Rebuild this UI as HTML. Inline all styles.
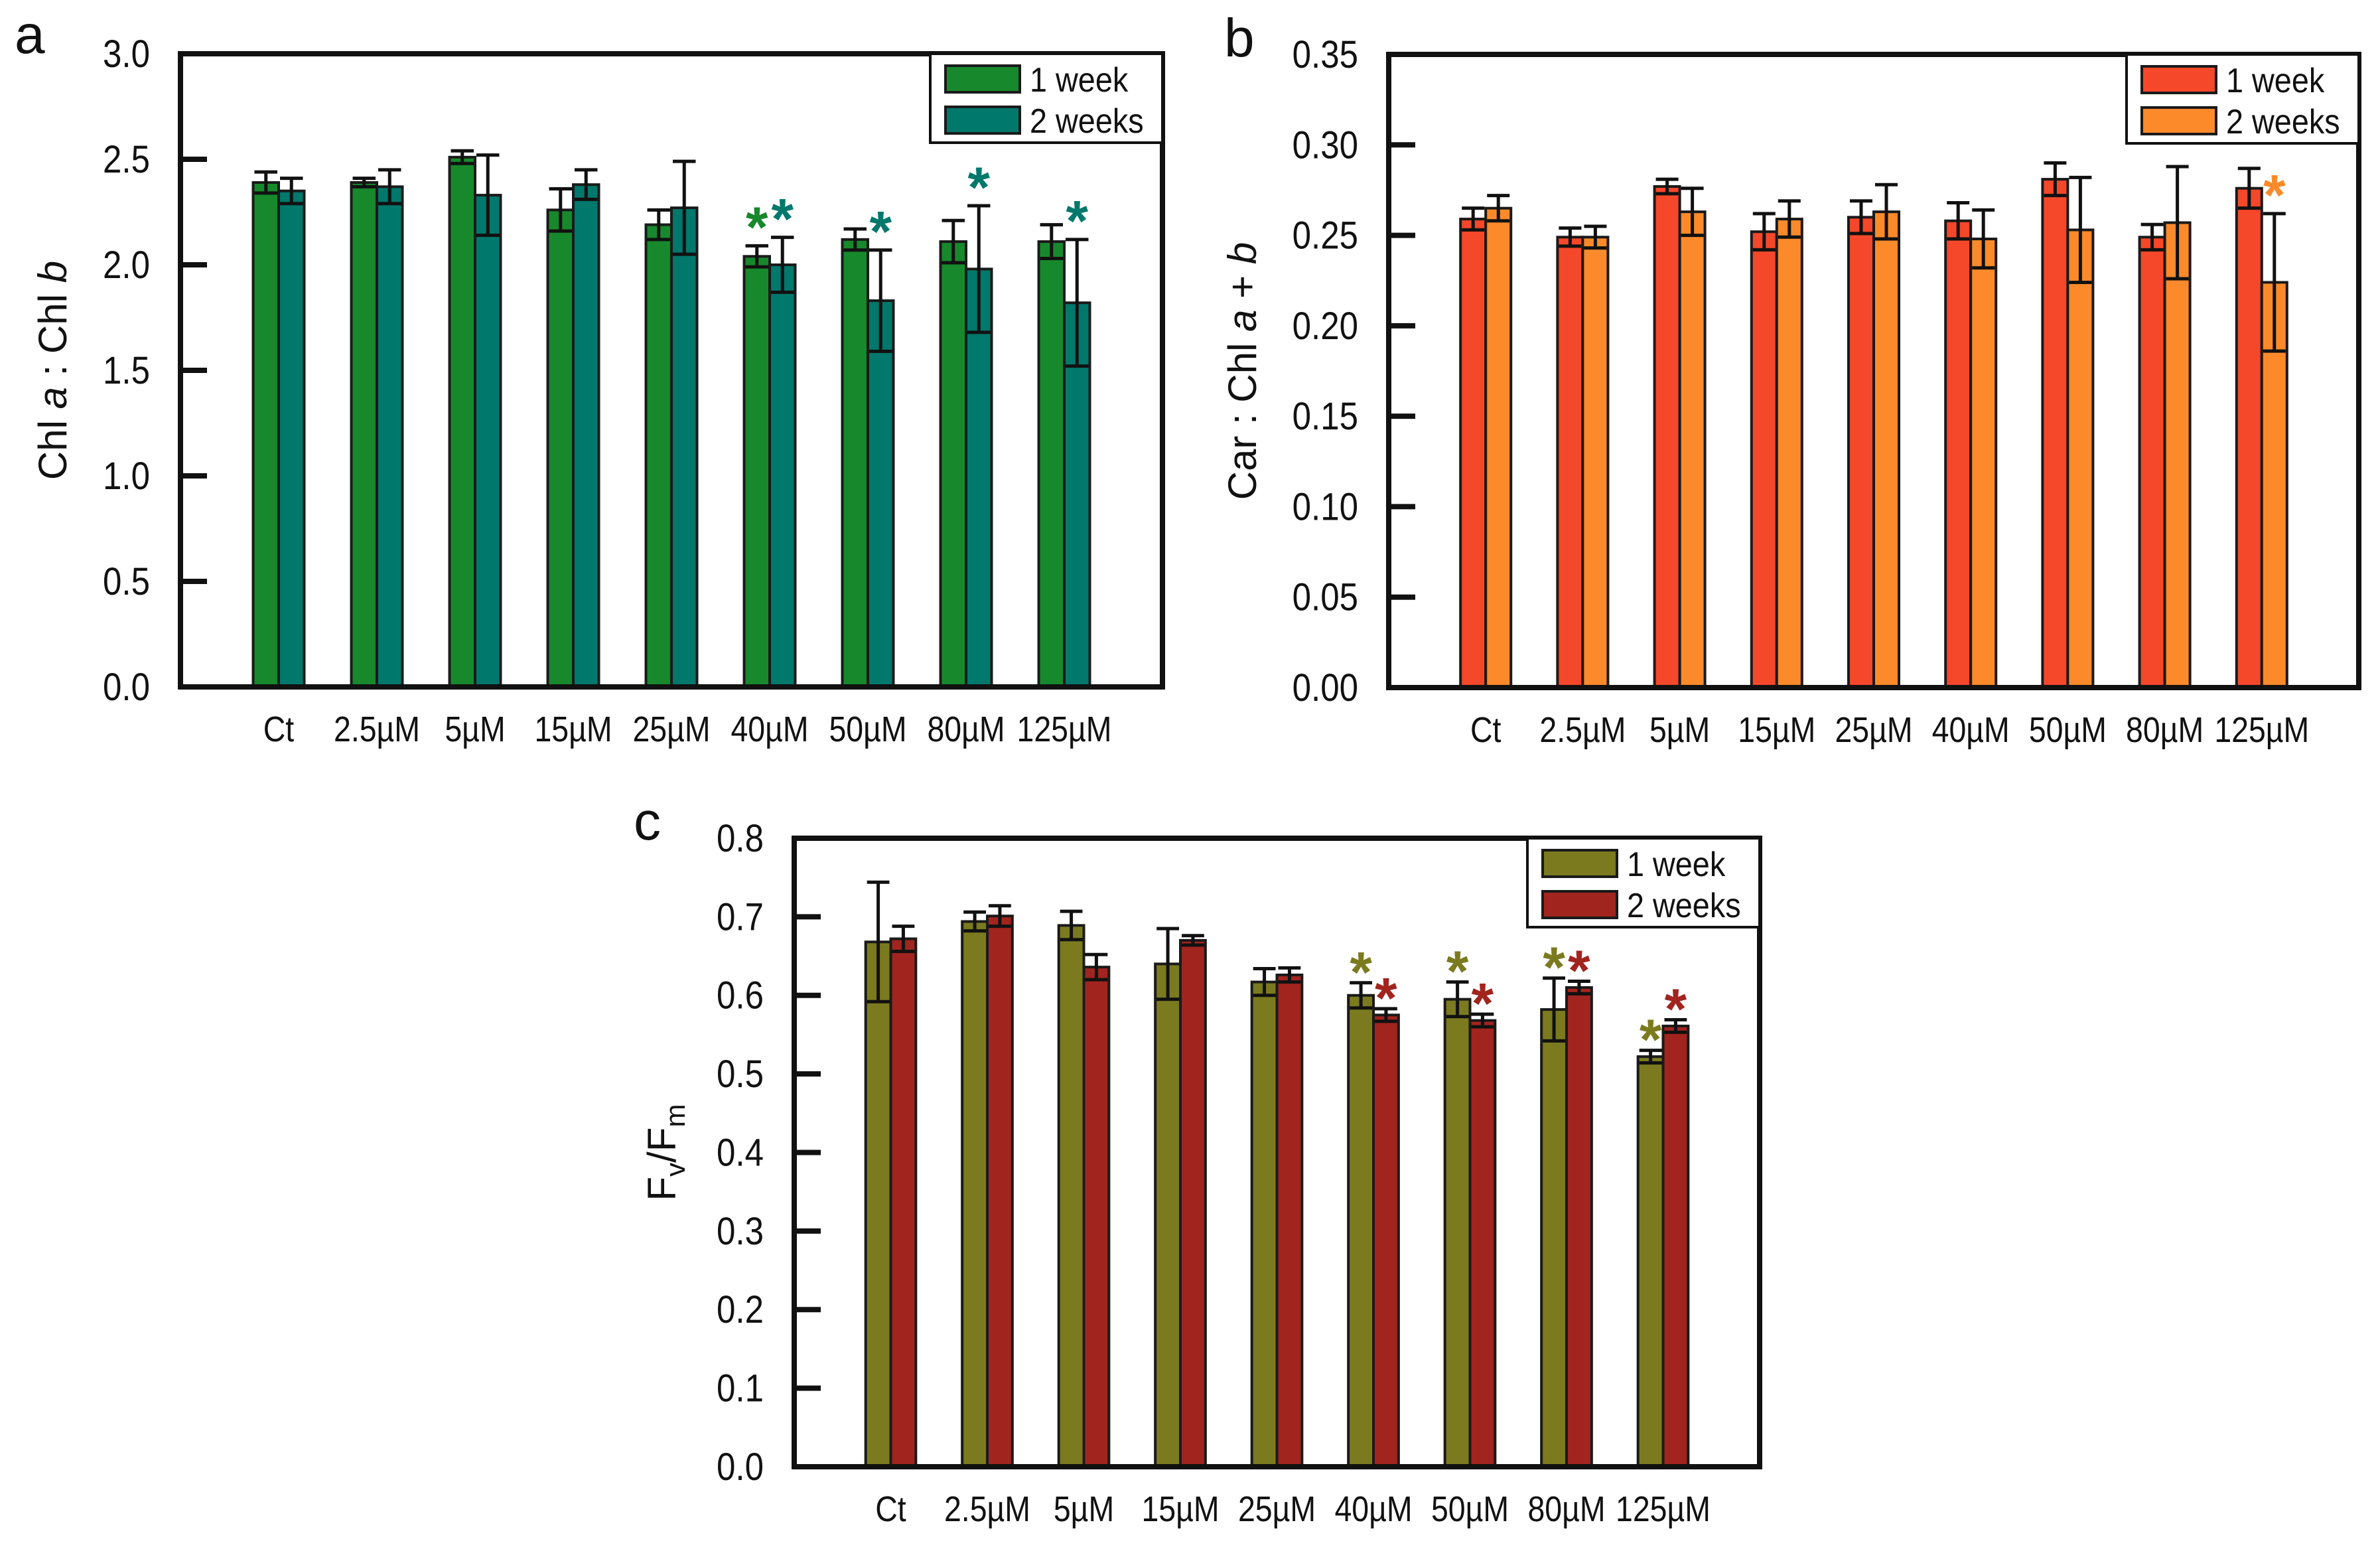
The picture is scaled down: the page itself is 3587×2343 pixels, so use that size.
<!DOCTYPE html>
<html><head><meta charset="utf-8">
<style>
html,body{margin:0;padding:0;background:#fff;}
svg{display:block;font-family:"Liberation Sans",Arial,sans-serif;}
</style></head>
<body>
<svg id="fig" width="3587" height="2343" viewBox="0 0 3587 2343" xmlns="http://www.w3.org/2000/svg">
<rect width="3587" height="2343" fill="#fff"/>
</svg>
<script>
const categories = ["Ct","2.5\u00b5M","5\u00b5M","15\u00b5M","25\u00b5M","40\u00b5M","50\u00b5M","80\u00b5M","125\u00b5M"];

const aWeek1 = [2.39,2.39,2.51,2.26,2.19,2.04,2.12,2.11,2.11];
const aWeek1Err = [0.05,0.02,0.03,0.10,0.07,0.05,0.05,0.10,0.08];
const aWeek2 = [2.35,2.37,2.33,2.38,2.27,2.00,1.83,1.98,1.82];
const aWeek2Err = [0.06,0.08,0.19,0.07,0.22,0.13,0.24,0.30,0.30];
const aStars1 = [0,0,0,0,0,1,0,0,0];
const aStars2 = [0,0,0,0,0,1,1,1,1];
const aTicks = ["0.0","0.5","1.0","1.5","2.0","2.5","3.0"];

const bWeek1 = [0.259,0.249,0.277,0.252,0.260,0.258,0.281,0.249,0.276];
const bWeek1Err = [0.006,0.005,0.004,0.010,0.009,0.010,0.009,0.007,0.011];
const bWeek2 = [0.265,0.249,0.263,0.259,0.263,0.248,0.253,0.257,0.224];
const bWeek2Err = [0.007,0.006,0.013,0.010,0.015,0.016,0.029,0.031,0.038];
const bStars1 = [0,0,0,0,0,0,0,0,0];
const bStars2 = [0,0,0,0,0,0,0,0,1];
const bTicks = ["0.00","0.05","0.10","0.15","0.20","0.25","0.30","0.35"];

const cWeek1 = [0.668,0.694,0.689,0.640,0.617,0.600,0.595,0.582,0.522];
const cWeek1Err = [0.076,0.012,0.018,0.045,0.017,0.016,0.022,0.040,0.008];
const cWeek2 = [0.672,0.701,0.636,0.670,0.626,0.575,0.568,0.610,0.561];
const cWeek2Err = [0.016,0.013,0.016,0.006,0.009,0.008,0.008,0.008,0.008];
const cStars1 = [0,0,0,0,0,1,1,1,1];
const cStars2 = [0,0,0,0,0,1,1,1,1];
const cTicks = ["0.0","0.1","0.2","0.3","0.4","0.5","0.6","0.7","0.8"];

const NS="http://www.w3.org/2000/svg";
const svg=document.getElementById('fig');
function mk(tag,attrs,parent){const e=document.createElementNS(NS,tag);for(const k in attrs)e.setAttribute(k,attrs[k]);(parent||svg).appendChild(e);return e;}

function panel(p){
  const g=mk('g',{});
  
  
  const W=p.x1-p.x0, H=p.y1-p.y0;
  const yS=v=>p.y1-(v/p.max)*H;
  const xC=i=>p.x0+W*(0.1+0.1*i);
  const bw=W*0.026;
  const L=mk('text',{x:p.lx,y:p.ly,'font-size':82,fill:'#111'},g);L.textContent=p.id;
  
  
  p.ticks.forEach((t,i)=>{
    const v=parseFloat(t);const y=yS(v);
    const tk=mk('line',{x1:p.x0,x2:p.x0+40,y1:y,y2:y,stroke:'#111','stroke-width':8},g);
    
    
    const ax=p.x0-46;
    const tl=mk('text',{x:ax,y:y+20,'font-size':58,'text-anchor':'end',fill:'#111',transform:`translate(${ax},0) scale(0.88,1) translate(${-ax},0)`},g);
    tl.textContent=t;
    
    
  });
  const series=[[p.s1,p.e1,p.c1,p.st1,-1],[p.s2,p.e2,p.c2,p.st2,0]];
  series.forEach((s,si)=>{
    s[0].forEach((v,i)=>{
      const bx=xC(i)+s[4]*bw;
      const top=yS(v);
      const r=mk('rect',{x:bx,y:top,width:bw,height:p.y1-top,fill:s[2],stroke:'#1a1a1a','stroke-width':4},g);
      
      
      const e=s[1][i];const cx=bx+bw/2;
      const eu=yS(v+e), ed=yS(v-e);
      const el=mk('path',{d:`M${cx},${eu}V${ed}M${bx+2},${eu}H${bx+bw-2}M${bx+2},${ed}H${bx+bw-2}`,stroke:'#111','stroke-width':5,fill:'none'},g);
      
      
      if(s[3][i]){
        const sy=yS(v+e+p.max*p.so);
        const st=mk('text',{x:cx,y:sy+40,'font-size':86,'font-weight':'bold','text-anchor':'middle',fill:s[2]},g);
        st.textContent='*';
        
        
      }
    });
  });
  categories.forEach((c,i)=>{
    const t=mk('text',{x:xC(i),y:p.y1+82,'font-size':54,'text-anchor':'middle',fill:'#111',transform:`translate(${xC(i)},0) scale(0.86,1) translate(${-xC(i)},0)`},g);
    t.textContent=c;
    
    
  });
  const fr=mk('rect',{x:p.x0,y:p.y0,width:W,height:H,fill:'none',stroke:'#111','stroke-width':8},g);
  
  
  const lx=p.x1-350, ly=p.y0;
  const lg=mk('g',{},g);
  
  
  mk('rect',{x:lx,y:ly,width:350,height:134,fill:'#fff',stroke:'#111','stroke-width':4},lg);
  [[p.c1,'1 week'],[p.c2,'2 weeks']].forEach((it,k)=>{
    const yy=ly+18+k*62;
    const sw=mk('rect',{x:lx+23,y:yy,width:112,height:40,fill:it[0],stroke:'#1a1a1a','stroke-width':4},lg);
    
    
    const tx=mk('text',{x:lx+150,y:yy+39,'font-size':52,fill:'#111',transform:`translate(${lx+150},0) scale(0.9,1) translate(${-(lx+150)},0)`},lg);
    tx.textContent=it[1];
    
    
  });
  const yt=mk('text',{x:0,y:0,'font-size':60,'text-anchor':'middle',fill:'#111',transform:`translate(${p.tx},${(p.y0+p.y1)/2}) rotate(-90)`},g);
  yt.innerHTML=p.title;
  
  
}

panel({id:'a',x0:272,x1:1752,y0:81,y1:1035,max:3.0,ticks:aTicks,s1:aWeek1,e1:aWeek1Err,s2:aWeek2,e2:aWeek2Err,st1:aStars1,st2:aStars2,
  c1:'#17892c',c2:'#00786c',so:0.04,lx:22,ly:80,tx:100,
  title:'Chl <tspan font-style="italic">a</tspan> : Chl <tspan font-style="italic">b</tspan>'});
panel({id:'b',x0:2093,x1:3555,y0:82,y1:1036,max:0.35,ticks:bTicks,s1:bWeek1,e1:bWeek1Err,s2:bWeek2,e2:bWeek2Err,st1:bStars1,st2:bStars2,
  c1:'#f5472a',c2:'#fc8a2b',so:0.04,lx:1845,ly:85,tx:1893,
  title:'Car : Chl <tspan font-style="italic">a</tspan> + <tspan font-style="italic">b</tspan>'});
panel({id:'c',x0:1197,x1:2652,y0:1263,y1:2210,max:0.8,ticks:cTicks,s1:cWeek1,e1:cWeek1Err,s2:cWeek2,e2:cWeek2Err,st1:cStars1,st2:cStars2,
  c1:'#7b7a1f',c2:'#a2241f',so:0.028,lx:955,ly:1265,tx:1018,
  title:'F<tspan font-size="42" dy="14">v</tspan><tspan dy="-14">/F</tspan><tspan font-size="42" dy="14">m</tspan>'});
</script>
</body></html>
